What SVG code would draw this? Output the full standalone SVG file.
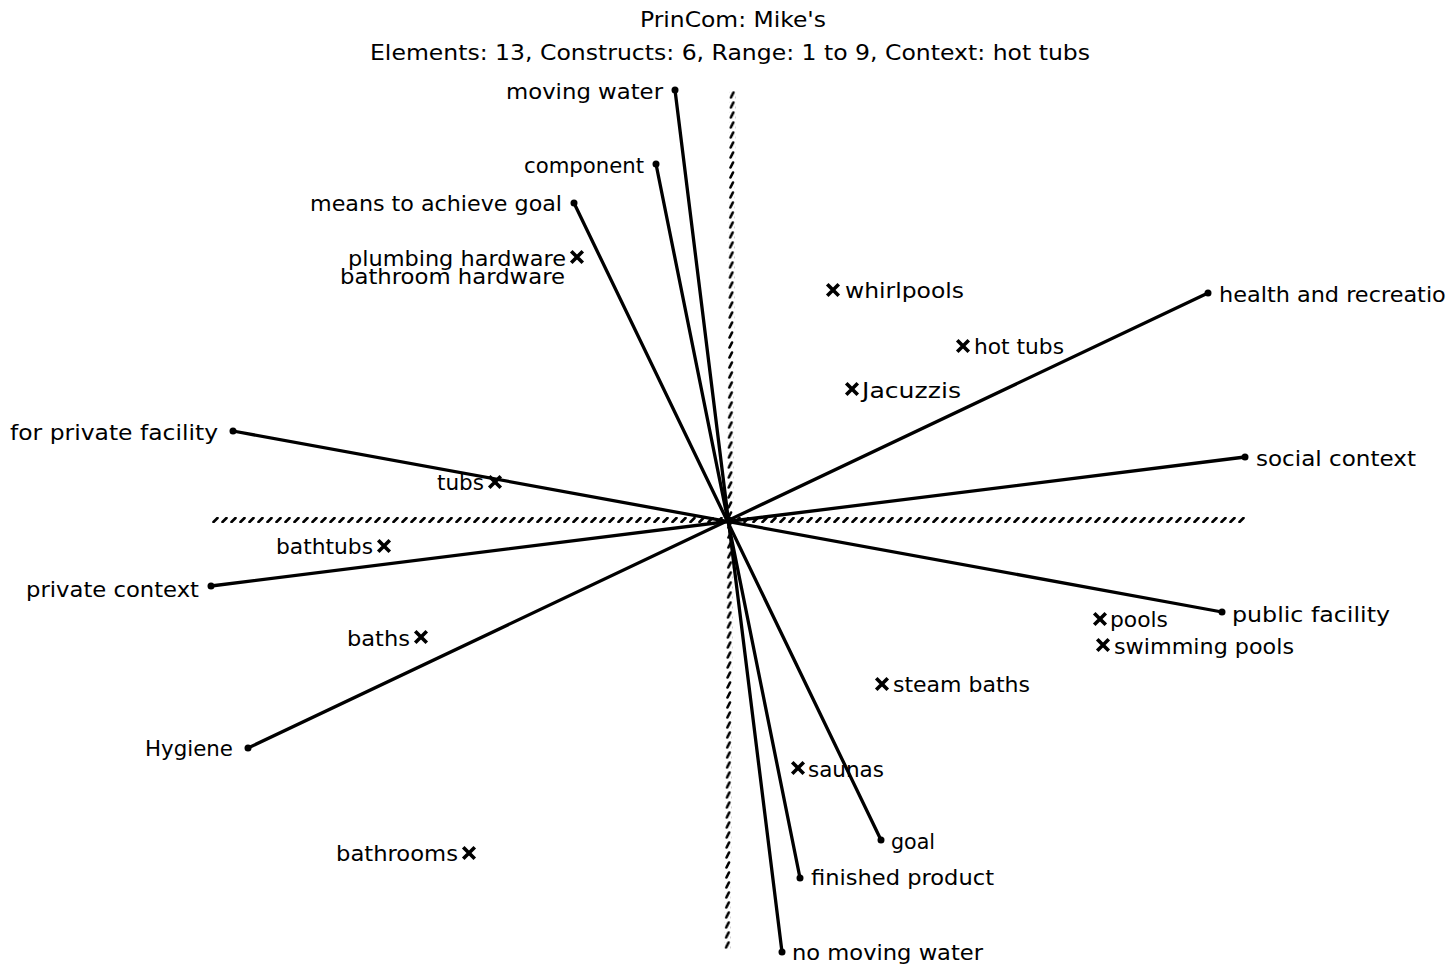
<svg xmlns="http://www.w3.org/2000/svg" width="1447" height="968" viewBox="0 0 1447 968">
  <defs>
    <pattern id="hatchH" patternUnits="userSpaceOnUse" x="212" y="517" width="9" height="6">
      <path d="M1.5,5 L5.5,1" stroke="#000" stroke-width="2.6" stroke-linecap="round"/>
    </pattern>
    <pattern id="hatchV" patternUnits="userSpaceOnUse" x="727" y="90" width="6" height="10">
      <path d="M1.5,7.5 L4,2.5" stroke="#000" stroke-width="2.6" stroke-linecap="round"/>
    </pattern>
    <g id="cross">
      <path d="M-4.5,-4.5 L4.5,4.5 M4.5,-4.5 L-4.5,4.5" stroke="#000" stroke-width="3.6" stroke-linecap="square"/>
    </g>
  </defs>
  <style>
    text { font-family: "DejaVu Sans", "Liberation Sans", sans-serif; font-size: 21px; fill: #000; }
    .end { text-anchor: end; }
    .mid { text-anchor: middle; }
    .axis-line { stroke: #000; stroke-width: 3.3; stroke-linecap: round; }
    .dot { fill: #000; }
  </style>
  <rect width="1447" height="968" fill="#fff"/>

  <!-- title -->
  <g id="title">
    <text x="733" y="27" class="mid" textLength="186" lengthAdjust="spacingAndGlyphs">PrinCom: Mike's</text>
    <text x="730" y="60" class="mid" textLength="720" lengthAdjust="spacingAndGlyphs">Elements: 13, Constructs: 6, Range: 1 to 9, Context: hot tubs</text>
  </g>

  <!-- principal component axes -->
  <g id="axes">
    <rect x="212" y="517" width="1034" height="6" fill="url(#hatchH)"/>
    <rect x="727" y="90" width="6" height="860" fill="url(#hatchV)" transform="rotate(0.33 730 520)"/>
  </g>

  <!-- construct vectors -->
  <g id="connectors">
    <line class="axis-line" x1="675" y1="90" x2="782" y2="952"/>
    <line class="axis-line" x1="656" y1="164" x2="800" y2="878"/>
    <line class="axis-line" x1="574" y1="203" x2="881" y2="840"/>
    <line class="axis-line" x1="1208" y1="293" x2="248" y2="748"/>
    <line class="axis-line" x1="1245" y1="457" x2="211" y2="586"/>
    <line class="axis-line" x1="233" y1="431" x2="1222" y2="612"/>
  </g>

  <!-- construct poles -->
  <g id="pole-moving-water">
    <circle class="dot" cx="675" cy="90" r="3.5"/>
    <text x="663" y="99" class="end" textLength="157" lengthAdjust="spacingAndGlyphs">moving water</text>
  </g>
  <g id="pole-no-moving-water">
    <circle class="dot" cx="782" cy="952" r="3.5"/>
    <text x="792" y="960" textLength="191" lengthAdjust="spacingAndGlyphs">no moving water</text>
  </g>
  <g id="pole-component">
    <circle class="dot" cx="656" cy="164" r="3.5"/>
    <text x="644" y="173" class="end" textLength="120" lengthAdjust="spacingAndGlyphs">component</text>
  </g>
  <g id="pole-finished-product">
    <circle class="dot" cx="800" cy="878" r="3.5"/>
    <text x="811" y="885" textLength="183" lengthAdjust="spacingAndGlyphs">finished product</text>
  </g>
  <g id="pole-means">
    <circle class="dot" cx="574" cy="203" r="3.5"/>
    <text x="562" y="211" class="end" textLength="252" lengthAdjust="spacingAndGlyphs">means to achieve goal</text>
  </g>
  <g id="pole-goal">
    <circle class="dot" cx="881" cy="840" r="3.5"/>
    <text x="891" y="849" textLength="44" lengthAdjust="spacingAndGlyphs">goal</text>
  </g>
  <g id="pole-health">
    <circle class="dot" cx="1208" cy="293" r="3.5"/>
    <text x="1219" y="302" textLength="241" lengthAdjust="spacingAndGlyphs">health and recreation</text>
  </g>
  <g id="pole-hygiene">
    <circle class="dot" cx="248" cy="748" r="3.5"/>
    <text x="233" y="756" class="end" textLength="88" lengthAdjust="spacingAndGlyphs">Hygiene</text>
  </g>
  <g id="pole-social">
    <circle class="dot" cx="1245" cy="457" r="3.5"/>
    <text x="1256" y="466" textLength="160" lengthAdjust="spacingAndGlyphs">social context</text>
  </g>
  <g id="pole-private-context">
    <circle class="dot" cx="211" cy="586" r="3.5"/>
    <text x="199" y="597" class="end" textLength="173" lengthAdjust="spacingAndGlyphs">private context</text>
  </g>
  <g id="pole-private-facility">
    <circle class="dot" cx="233" cy="431" r="3.5"/>
    <text x="218" y="440" class="end" textLength="208" lengthAdjust="spacingAndGlyphs">for private facility</text>
  </g>
  <g id="pole-public-facility">
    <circle class="dot" cx="1222" cy="612" r="3.5"/>
    <text x="1232" y="622" textLength="158" lengthAdjust="spacingAndGlyphs">public facility</text>
  </g>

  <!-- elements -->
  <g id="el-plumbing-hardware">
    <use href="#cross" x="577" y="257"/>
    <text x="566" y="266" class="end" textLength="218" lengthAdjust="spacingAndGlyphs">plumbing hardware</text>
  </g>
  <g id="el-bathroom-hardware">
    <text x="565" y="284" class="end" textLength="225" lengthAdjust="spacingAndGlyphs">bathroom hardware</text>
  </g>
  <g id="el-whirlpools">
    <use href="#cross" x="833" y="290"/>
    <text x="845" y="298" textLength="119" lengthAdjust="spacingAndGlyphs">whirlpools</text>
  </g>
  <g id="el-hot-tubs">
    <use href="#cross" x="963" y="346"/>
    <text x="974" y="354" textLength="90" lengthAdjust="spacingAndGlyphs">hot tubs</text>
  </g>
  <g id="el-jacuzzis">
    <use href="#cross" x="852" y="389"/>
    <text x="862" y="398" textLength="99" lengthAdjust="spacingAndGlyphs">Jacuzzis</text>
  </g>
  <g id="el-tubs">
    <use href="#cross" x="495" y="482"/>
    <text x="484" y="490" class="end" textLength="47" lengthAdjust="spacingAndGlyphs">tubs</text>
  </g>
  <g id="el-bathtubs">
    <use href="#cross" x="384" y="546"/>
    <text x="373" y="554" class="end" textLength="97" lengthAdjust="spacingAndGlyphs">bathtubs</text>
  </g>
  <g id="el-baths">
    <use href="#cross" x="421" y="637"/>
    <text x="410" y="646" class="end" textLength="63" lengthAdjust="spacingAndGlyphs">baths</text>
  </g>
  <g id="el-bathrooms">
    <use href="#cross" x="469" y="853"/>
    <text x="458" y="861" class="end" textLength="122" lengthAdjust="spacingAndGlyphs">bathrooms</text>
  </g>
  <g id="el-pools">
    <use href="#cross" x="1100" y="619"/>
    <text x="1110" y="627" textLength="58" lengthAdjust="spacingAndGlyphs">pools</text>
  </g>
  <g id="el-swimming-pools">
    <use href="#cross" x="1103" y="645"/>
    <text x="1114" y="654" textLength="180" lengthAdjust="spacingAndGlyphs">swimming pools</text>
  </g>
  <g id="el-steam-baths">
    <use href="#cross" x="882" y="684"/>
    <text x="893" y="692" textLength="137" lengthAdjust="spacingAndGlyphs">steam baths</text>
  </g>
  <g id="el-saunas">
    <use href="#cross" x="798" y="768"/>
    <text x="808" y="777" textLength="76" lengthAdjust="spacingAndGlyphs">saunas</text>
  </g>
</svg>
